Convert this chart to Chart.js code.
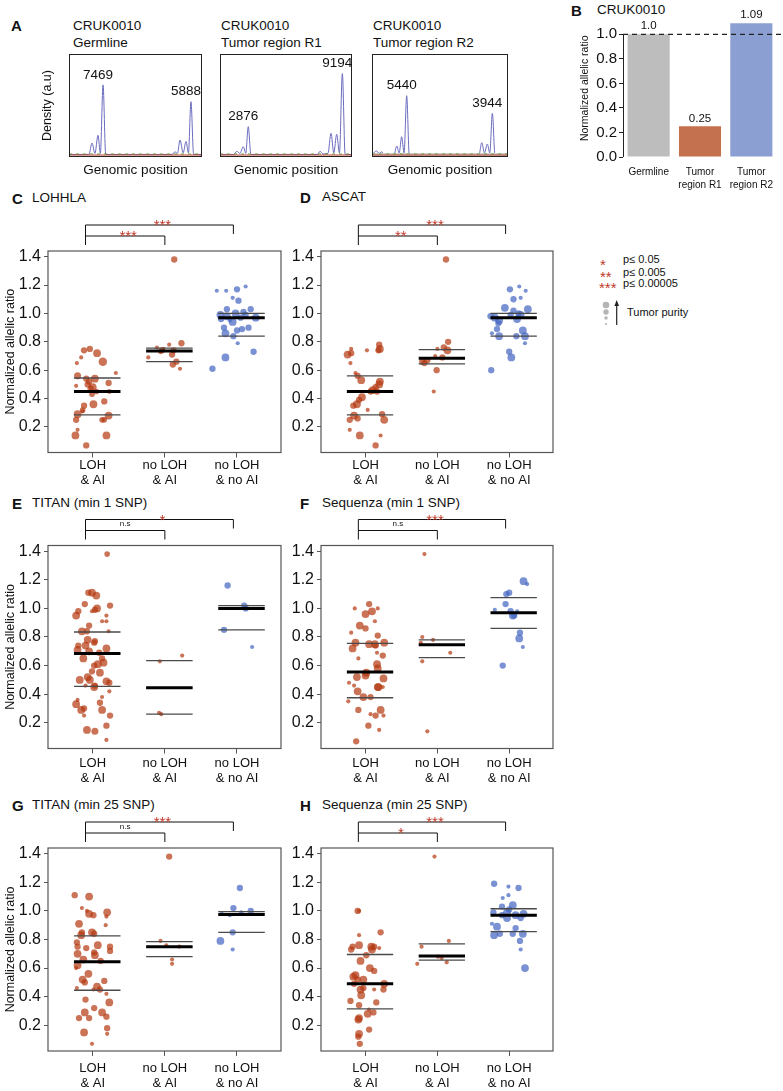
<!DOCTYPE html>
<html>
<head>
<meta charset="utf-8">
<script src="https://cdn.jsdelivr.net/npm/chart.js@4.4.1/dist/chart.umd.min.js"></script>
<style>
body { margin: 0; background: #fff; }
#fig { position: relative; width: 783px; height: 1091px; overflow: hidden;
       font-family: "Liberation Sans", Arial, Helvetica, sans-serif; color: #111; }
canvas { position: absolute; }
.t { position: absolute; white-space: nowrap; transform: translateY(-50%); line-height: 1; }
.L { font-weight: bold; font-size: 15px; }
.h { font-size: 13.5px; }
.lg { font-size: 11px; }
.st { font-size: 15px; color: #c0392b; }
</style>
</head>
<body>
<div id="fig">
  <div class="t L" style="left:11px;top:25px">A</div>
  <div class="t h" style="left:73px;top:26px">CRUK0010</div>
  <div class="t h" style="left:73px;top:43px">Germline</div>
  <div class="t h" style="left:221px;top:26px">CRUK0010</div>
  <div class="t h" style="left:221px;top:43px">Tumor region R1</div>
  <div class="t h" style="left:373px;top:26px">CRUK0010</div>
  <div class="t h" style="left:373px;top:43px">Tumor region R2</div>
  <div class="t L" style="left:571px;top:10px">B</div>
  <div class="t h" style="left:597px;top:10px">CRUK0010</div>

  <div class="t L" style="left:12px;top:198px">C</div><div class="t h" style="left:32px;top:198px">LOHHLA</div>
  <div class="t L" style="left:300px;top:197px">D</div><div class="t h" style="left:322px;top:197px">ASCAT</div>
  <div class="t L" style="left:12px;top:503px">E</div><div class="t h" style="left:32px;top:503px">TITAN (min 1 SNP)</div>
  <div class="t L" style="left:300px;top:503px">F</div><div class="t h" style="left:322px;top:503px">Sequenza (min 1 SNP)</div>
  <div class="t L" style="left:12px;top:805px">G</div><div class="t h" style="left:32px;top:805px">TITAN (min 25 SNP)</div>
  <div class="t L" style="left:300px;top:805px">H</div><div class="t h" style="left:322px;top:805px">Sequenza (min 25 SNP)</div>

  <div class="t st" style="left:600px;top:264px">*</div><div class="t lg" style="left:623px;top:259px">p≤ 0.05</div>
  <div class="t st" style="left:600px;top:276px">**</div><div class="t lg" style="left:623px;top:272px">p≤ 0.005</div>
  <div class="t st" style="left:599px;top:287px">***</div><div class="t lg" style="left:623px;top:283px">p≤ 0.00005</div>
  <svg style="position:absolute;left:598px;top:298px" width="30" height="30">
    <circle cx="8" cy="7" r="3.3" fill="#b5b5b5"/>
    <circle cx="8" cy="14" r="2.7" fill="#b5b5b5"/>
    <circle cx="8" cy="20" r="1.7" fill="#b5b5b5"/>
    <circle cx="8" cy="26" r="1.1" fill="#b5b5b5"/>
    <line x1="18.7" y1="27" x2="18.7" y2="6" stroke="#222" stroke-width="1.2"/>
    <polygon points="18.7,2 16.4,8 21,8" fill="#222"/>
  </svg>
  <div class="t lg" style="left:627px;top:312px">Tumor purity</div>

  <canvas id="a1" width="180" height="135" style="left:30px;top:50px"></canvas>
  <canvas id="a2" width="140" height="135" style="left:220px;top:50px"></canvas>
  <canvas id="a3" width="145" height="135" style="left:372px;top:50px"></canvas>
  <canvas id="b" width="211" height="195" style="left:572px;top:0px"></canvas>

  <canvas id="c" width="290" height="300" style="left:0px;top:190px"></canvas>
  <canvas id="d" width="275" height="300" style="left:290px;top:190px"></canvas>
  <canvas id="e" width="290" height="300" style="left:0px;top:490px"></canvas>
  <canvas id="f" width="275" height="300" style="left:290px;top:490px"></canvas>
  <canvas id="g" width="290" height="301" style="left:0px;top:790px"></canvas>
  <canvas id="h" width="275" height="301" style="left:290px;top:790px"></canvas>
</div>

<script>
const FONT = '"Liberation Sans", Arial, Helvetica, sans-serif';
Chart.defaults.font.family = FONT;
Chart.defaults.color = '#111';
Chart.defaults.animation = false;
Chart.defaults.plugins.legend.display = false;
Chart.defaults.plugins.tooltip.enabled = false;

/* =========================
   PANEL A - density traces (position 0-100, density a.u.)
========================= */
const germlineX = [0, 15, 17.3, 19.5, 21.8, 23.6, 25.6, 27.6, 50, 77.5, 79.7, 81.5, 83.5, 85.8, 88, 89.8, 91.7, 93.7, 100];
const germlineY = [2.5, 2.5, 13.6, 3.5, 21, 3.5, 70, 2.5, 2.5, 2.5, 5, 3.5, 16.5, 4, 15, 4, 53.7, 2.5, 2.5];
const germlineLabels = ['7469', '5888'];

const regionR1X = [0, 10.5, 12.7, 15, 17.7, 19.5, 21.4, 23.4, 50, 73.8, 75.8, 78, 81.8, 84.1, 86.2, 88.4, 90.5, 92.7, 94.8, 100];
const regionR1Y = [2.5, 2.5, 5.5, 3.5, 10, 3.5, 29.4, 2.5, 2.5, 2.5, 5.5, 3, 3.5, 23, 4, 22, 4, 81, 2.5, 2.5];
const regionR1Labels = ['2876', '9194'];

const regionR2X = [0, 3.4, 5.2, 7.1, 9, 16.2, 18.2, 20, 21.8, 23.6, 25.5, 27.4, 50, 78.7, 80.7, 82.7, 84.8, 86.6, 88.5, 90.4, 100];
const regionR2Y = [2.5, 5.8, 3.5, 5, 2.5, 2.5, 10.7, 4, 19.7, 4, 59.5, 2.5, 2.5, 2.5, 13.9, 4, 12.6, 4, 42.4, 2.5, 2.5];
const regionR2Labels = ['5440', '3944'];

/* =========================
   PANEL B - bar chart
========================= */
const sampleNames = ['Germline', ['Tumor', 'region R1'], ['Tumor', 'region R2']];
const allelicRatio = [1.0, 0.25, 1.09];
const barColors = ['#bdbdbd', '#c4714f', '#8c9fd2'];

/* =========================
   PANELS C-H - [x (group + jitter), normalized allelic ratio, tumor purity]
========================= */
const groupLabels = [['LOH', '& AI'], ['no LOH', '& AI'], ['no LOH', '& no AI']];
const ratioTicks = [0.2, 0.4, 0.6, 0.8, 1.0, 1.2, 1.4];

// C  LOHHLA
const lohhlaLoh = [[0.91,0.07,.6],[0.76,0.14,.8],[1.19,0.14,.8],[0.79,0.18,.3],[0.77,0.25,.6],[0.79,0.29,.8],[0.86,0.32,.5],[0.88,0.35,.6],[1.01,0.36,.8],[1.13,0.25,.5],[1.16,0.25,.5],[1.22,0.28,.8],[1.16,0.38,.6],[1.05,0.45,.5],[1.0,0.48,.8],[0.93,0.5,.6],[1.03,0.54,.8],[0.91,0.54,.6],[0.79,0.56,.7],[0.77,0.49,.3],[1.22,0.51,.6],[1.23,0.45,.4],[1.32,0.58,.3],[1.14,0.66,.9],[0.78,0.65,.3],[0.84,0.69,.3],[0.88,0.74,.6],[0.96,0.75,.6],[1.06,0.72,.8],[0.95,0.52,.6],[0.99,0.43,.5],[0.86,0.31,.3],[0.97,0.47,.6]];
const lohhlaNoLohAi = [[2.13,1.38,.6],[2.23,0.79,.6],[1.96,0.74,.6],[2.06,0.78,.3],[1.77,0.69,.3],[2.12,0.74,.6],[2.11,0.64,.6],[2.16,0.66,.6],[2.21,0.61,.3],[2.10,0.71,.6],[1.89,0.76,.3],[1.98,0.75,.3],[1.94,0.73,.4]];
const lohhlaNoLohNoAi = [[2.66,0.61,.6],[2.84,0.69,.8],[3.23,0.73,.6],[3.01,0.79,.3],[2.84,0.86,.8],[2.95,0.84,.6],[3.0,0.88,.6],[3.07,0.89,.6],[3.16,0.9,.6],[2.82,0.9,.6],[2.9,0.95,.3],[2.78,0.96,.6],[2.77,0.99,.8],[2.86,0.98,.8],[2.94,0.94,.8],[2.98,1.0,.8],[3.05,0.97,.6],[3.12,0.99,.6],[3.19,1.03,.6],[3.09,1.01,.6],[2.86,1.03,.6],[3.02,1.09,.6],[2.94,1.11,.3],[2.85,1.16,.3],[3.0,1.17,.6],[3.12,1.19,.3],[2.72,1.16,.3],[3.26,0.97,.8]];
const lohhlaStats = [[0.285,0.45,0.545],[0.66,0.735,0.755],[0.84,0.97,1.0]];

// D  ASCAT
const ascatLoh = [[1.14,0.07,.6],[0.92,0.14,.8],[1.21,0.14,.3],[0.78,0.18,.3],[0.78,0.25,.6],[0.89,0.26,.6],[1.03,0.32,.3],[0.84,0.28,.8],[1.26,0.25,.8],[1.23,0.29,.6],[0.88,0.36,.8],[0.91,0.39,.6],[0.95,0.41,.8],[0.83,0.35,.6],[1.1,0.46,.8],[1.14,0.48,.6],[1.19,0.5,.8],[1.2,0.52,.8],[1.16,0.45,.6],[0.94,0.53,.8],[0.89,0.56,.6],[0.86,0.58,.3],[0.79,0.65,.3],[0.75,0.71,.8],[0.8,0.72,.6],[0.8,0.75,.3],[1.02,0.74,.3],[1.19,0.78,.6],[1.2,0.75,.8],[1.18,0.74,.6],[1.07,0.45,.6]];
const ascatNoLohAi = [[2.12,1.38,.6],[1.95,0.45,.3],[1.99,0.6,.6],[1.82,0.65,.6],[1.86,0.67,.6],[2.07,0.69,.6],[1.97,0.7,.3],[2.0,0.75,.3],[2.09,0.76,.6],[2.14,0.74,.8],[2.15,0.8,.6],[1.79,0.66,.6]];
const ascatNoLohNoAi = [[2.75,0.6,.6],[3.03,0.69,.8],[3.0,0.73,.6],[3.22,0.79,.3],[2.76,0.86,.3],[2.86,0.84,.8],[3.1,0.84,.6],[3.22,0.84,.8],[3.19,0.88,.8],[2.83,0.89,.6],[2.85,0.93,.6],[2.8,0.97,.8],[2.86,0.95,.8],[3.11,0.96,.8],[3.16,0.99,.8],[3.06,1.02,.6],[2.94,1.04,.8],[3.26,1.03,.8],[3.02,0.99,.6],[3.13,1.0,.6],[3.06,1.1,.6],[3.16,1.11,.3],[3.01,1.17,.6],[3.14,1.19,.3],[3.23,1.16,.3],[2.74,0.98,.6]];
const ascatStats = [[0.285,0.45,0.56],[0.645,0.685,0.745],[0.84,0.97,1.0]];

// E  TITAN (min 1 SNP)
const titan1Loh = [[1.2,1.38,.5],[1.19,0.08,.3],[0.92,0.15,.8],[1.03,0.14,.7],[1.19,0.18,.6],[1.24,0.25,.6],[0.88,0.25,.3],[0.77,0.33,.8],[0.79,0.36,.3],[0.84,0.29,.8],[0.88,0.3,.6],[1.13,0.29,.8],[1.1,0.34,.6],[1.13,0.38,.3],[1.23,0.42,.3],[1.23,0.48,.6],[1.19,0.49,.8],[1.03,0.46,.6],[1.02,0.45,.8],[0.9,0.46,.3],[0.82,0.5,.8],[0.93,0.52,.8],[0.96,0.5,.8],[1.1,0.55,.8],[0.99,0.56,.6],[1.07,0.61,.8],[1.02,0.6,.6],[1.13,0.65,.6],[0.87,0.65,.8],[1.15,0.62,.8],[1.09,0.69,.6],[0.95,0.7,.8],[1.19,0.72,.8],[0.8,0.74,.6],[0.79,0.71,.8],[0.9,0.74,.8],[1.02,0.76,.6],[1.03,0.77,.6],[0.93,0.78,.8],[0.85,0.84,.8],[0.92,0.84,.6],[0.95,0.88,.6],[1.22,0.84,.3],[1.19,0.91,.3],[1.19,0.95,.3],[0.77,0.95,.8],[0.8,0.98,.6],[0.99,0.98,.3],[1.03,0.99,.6],[1.06,1.0,.8],[0.89,1.03,.6],[1.24,1.02,.6],[0.99,1.11,.8],[1.05,1.09,.8],[0.94,1.11,.6],[1.13,0.91,.3]];
const titan1NoLohAi = [[1.93,0.63,.3],[2.24,0.67,.3],[1.92,0.27,.3],[1.95,0.26,.3]];
const titan1NoLohNoAi = [[2.87,1.16,.6],[3.1,1.02,.6],[3.12,1.0,.6],[2.82,0.85,.6],[3.21,0.73,.3]];
const titan1Stats = [[0.455,0.685,0.835],[0.26,0.445,0.635],[0.85,1.0,1.02]];

// F  Sequenza (min 1 SNP)
const seq1Loh = [[0.87,0.07,.6],[1.04,0.18,.6],[1.19,0.15,.3],[0.9,0.29,.6],[1.07,0.38,.6],[0.89,0.42,.8],[0.97,0.38,.8],[0.76,0.35,.3],[0.84,0.46,.3],[0.77,0.48,.3],[0.88,0.52,.8],[1.01,0.55,.8],[1.0,0.53,.8],[1.07,0.26,.3],[1.14,0.25,.6],[1.21,0.29,.8],[1.25,0.25,.3],[1.17,0.45,.8],[1.18,0.45,.8],[1.25,0.51,.8],[1.24,0.45,.3],[1.17,0.58,.8],[1.16,0.61,.8],[1.24,0.67,.6],[1.16,0.69,.3],[0.9,0.65,.3],[0.82,0.72,.8],[0.86,0.76,.8],[1.05,0.75,.8],[1.13,0.75,.8],[1.26,0.76,.8],[1.17,0.81,.6],[0.8,0.83,.3],[0.92,0.88,.8],[1.0,0.86,.6],[1.13,0.91,.3],[1.0,0.96,.8],[1.09,0.98,.8],[0.85,1.0,.3],[1.05,1.03,.6],[1.17,1.0,.3],[1.14,0.74,.6]];
const seq1NoLohAi = [[1.82,1.38,.3],[1.86,0.14,.3],[1.79,0.8,.3],[1.94,0.78,.3],[1.77,0.76,.3],[1.79,0.63,.3],[2.18,0.69,.3]];
const seq1NoLohNoAi = [[2.91,0.6,.6],[3.19,0.73,.3],[3.14,0.79,.8],[3.15,0.83,.6],[3.05,0.95,.8],[3.02,0.98,.6],[3.11,0.98,.3],[3.07,0.95,.6],[2.8,0.99,.3],[2.95,1.03,.6],[2.96,1.1,.6],[3.0,1.11,.6],[3.2,1.19,.8],[3.25,1.17,.3]];
const seq1Stats = [[0.375,0.555,0.755],[0.655,0.745,0.78],[0.86,0.97,1.075]];

// G  TITAN (min 25 SNP)
const titan25Loh = [[0.99,0.07,.3],[0.88,0.15,.8],[1.2,0.14,.3],[1.2,0.18,.6],[0.81,0.25,.6],[0.95,0.25,.6],[1.19,0.26,.6],[0.89,0.29,.8],[1.13,0.29,.8],[1.02,0.32,.6],[0.9,0.38,.6],[1.23,0.36,.8],[1.19,0.42,.3],[0.78,0.46,.3],[1.01,0.45,.3],[1.06,0.47,.8],[1.1,0.45,.6],[1.16,0.51,.6],[0.86,0.52,.8],[0.89,0.5,.6],[0.94,0.56,.8],[0.77,0.6,.3],[0.79,0.62,.8],[1.11,0.65,.6],[0.87,0.66,.8],[0.79,0.7,.8],[1.03,0.69,.8],[1.02,0.71,.6],[1.24,0.72,.6],[1.24,0.75,.6],[1.07,0.76,.8],[0.91,0.74,.6],[0.78,0.78,.6],[0.79,0.75,.6],[0.85,0.85,.6],[0.84,0.83,.8],[0.99,0.85,.8],[1.02,0.84,.6],[0.81,0.91,.8],[1.18,0.9,.3],[0.95,0.98,.8],[1.01,0.97,.6],[1.19,0.96,.3],[1.2,0.99,.8],[0.85,1.02,.3],[0.92,1.0,.3],[0.75,1.11,.6],[0.95,1.1,.8]];
const titan25NoLohAi = [[2.06,1.38,.6],[1.94,0.79,.3],[2.02,0.76,.3],[2.2,0.75,.3],[2.1,0.66,.3],[2.1,0.63,.3]];
const titan25NoLohNoAi = [[3.04,1.16,.6],[2.77,0.79,.8],[2.94,0.73,.3],[2.94,0.85,.6],[2.79,0.98,.3],[2.9,0.97,.3],[2.95,1.02,.6],[3.06,0.99,.3],[3.19,1.0,.6]];
const titan25Stats = [[0.445,0.645,0.825],[0.68,0.75,0.785],[0.85,0.975,0.995]];

// H  Sequenza (min 25 SNP)
const seq25Loh = [[0.92,0.07,.6],[0.91,0.14,.8],[0.9,0.12,.6],[1.05,0.17,.6],[0.91,0.25,.8],[0.9,0.24,.8],[1.03,0.28,.8],[1.05,0.31,.3],[1.11,0.29,.6],[0.79,0.37,.6],[0.91,0.34,.6],[1.15,0.36,.6],[0.94,0.41,.8],[0.97,0.46,.6],[0.93,0.45,.8],[1.12,0.45,.3],[1.25,0.45,.6],[1.26,0.49,.8],[0.84,0.49,.6],[0.89,0.52,.6],[0.97,0.52,.8],[0.83,0.54,.8],[0.86,0.55,.8],[1.12,0.58,.6],[1.06,0.6,.8],[0.93,0.65,.8],[1.01,0.69,.6],[0.8,0.73,.6],[0.82,0.75,.6],[0.91,0.76,.8],[1.08,0.75,.8],[1.12,0.75,.6],[1.19,0.74,.3],[1.09,0.73,.8],[0.91,0.83,.3],[1.21,0.85,.6],[0.89,1.0,.6],[0.91,1.0,.3]];
const seq25NoLohAi = [[1.96,1.38,.3],[2.16,0.79,.3],[1.78,0.75,.3],[1.72,0.63,.3],[2.01,0.68,.3],[2.06,0.67,.3],[2.13,0.64,.3]];
const seq25NoLohNoAi = [[3.22,0.6,.8],[3.16,0.73,.3],[3.15,0.79,.6],[3.19,0.84,.8],[2.79,0.83,.8],[2.87,0.84,.6],[3.05,0.84,.6],[2.83,0.89,.8],[3.09,0.88,.6],[2.76,0.91,.3],[3.16,0.95,.6],[2.97,0.95,.8],[2.78,0.99,.6],[2.9,0.97,.6],[2.97,0.99,.8],[3.09,0.97,.8],[3.2,0.98,.8],[2.9,1.03,.6],[3.0,1.01,.6],[3.05,1.04,.8],[2.91,1.09,.3],[2.99,1.11,.3],[2.79,1.19,.6],[2.99,1.17,.3],[3.13,1.16,.6]];
const seq25Stats = [[0.315,0.49,0.695],[0.655,0.685,0.77],[0.855,0.97,1.015]];

/* =========================
   PANEL A CHARTS
========================= */
function tracePlugin(labels, band) {
  return {
    id: 'trace',
    afterDatasetsDraw(chart) {
      const { ctx, chartArea: a, scales: { x, y } } = chart;
      const pts = chart.data.datasets[0].data;
      ctx.save();
      if (band) {
        ctx.fillStyle = '#cfcfcf';
        ctx.fillRect(a.left, a.bottom - 4, a.width, 4);
      }
      // snp track at the bottom
      ctx.strokeStyle = '#c0392b';
      ctx.lineWidth = 1;
      ctx.beginPath(); ctx.moveTo(a.left, a.bottom - 2); ctx.lineTo(a.right, a.bottom - 2); ctx.stroke();
      ctx.strokeStyle = '#6a9a3a';
      ctx.setLineDash([3, 4]);
      ctx.beginPath(); ctx.moveTo(a.left, a.bottom - 3); ctx.lineTo(a.right, a.bottom - 3); ctx.stroke();
      ctx.setLineDash([]);
      ctx.strokeStyle = '#222';
      ctx.strokeRect(a.left + 0.5, a.top + 0.5, a.width - 1, a.height - 1);
      ctx.fillStyle = '#111';
      ctx.font = '13.5px ' + FONT;
      ctx.textAlign = 'center';
      ctx.textBaseline = 'middle';
      labels.forEach((txt, k) => {
        const half = pts.filter(p => (k === 0 ? p.x < 50 : p.x >= 50));
        const pk = half.reduce((m, p) => (p.y > m.y ? p : m));
        ctx.fillText(txt, x.getPixelForValue(pk.x) - 5, y.getPixelForValue(pk.y) - 10);
      });
      ctx.restore();
    }
  };
}

function densityChart(id, xs, ys, labels, withTitle, padRight, band) {
  new Chart(document.getElementById(id), {
    type: 'line',
    data: {
      datasets: [{
        data: xs.map((v, i) => ({ x: v, y: ys[i] })),
        borderColor: '#6b6bbf',
        borderWidth: 1,
        pointRadius: 0,
        cubicInterpolationMode: 'monotone',
        fill: false
      }]
    },
    options: {
      responsive: false,
      layout: { padding: { top: 4, right: padRight, left: 0, bottom: 0 } },
      scales: {
        x: {
          type: 'linear', min: 0, max: 100,
          ticks: { display: false },
          grid: { display: false, drawTicks: false },
          border: { display: false },
          title: { display: true, text: 'Genomic position', font: { size: 13.5 }, padding: { top: 0, bottom: 7 } },
          afterFit: s => { s.height = 28; }
        },
        y: {
          display: withTitle,
          min: 0, max: 100,
          ticks: { display: false },
          grid: { display: false, drawTicks: false },
          border: { display: false },
          title: { display: true, text: 'Density (a.u)', font: { size: 12.5 }, padding: { top: 10.5, bottom: 0 } },
          afterFit: s => { s.width = withTitle ? 39 : 0; }
        }
      }
    },
    plugins: [tracePlugin(labels, band)]
  });
}

densityChart('a1', germlineX, germlineY, germlineLabels, true, 8, false);
densityChart('a2', regionR1X, regionR1Y, regionR1Labels, false, 8, false);
densityChart('a3', regionR2X, regionR2Y, regionR2Labels, false, 9, true);

/* =========================
   PANEL B
========================= */
const barPlugin = {
  id: 'barDeco',
  afterDatasetsDraw(chart) {
    const { ctx, chartArea: a, scales: { y } } = chart;
    const y1 = y.getPixelForValue(1.0);
    ctx.save();
    ctx.strokeStyle = '#222';
    ctx.lineWidth = 1;
    ctx.beginPath();
    ctx.moveTo(a.left + 0.5, y.getPixelForValue(0));
    ctx.lineTo(a.left + 0.5, y1);
    ctx.stroke();
    ctx.setLineDash([5, 4]);
    ctx.lineWidth = 1.2;
    ctx.beginPath();
    ctx.moveTo(a.left, y1);
    ctx.lineTo(chart.width, y1);
    ctx.stroke();
    ctx.setLineDash([]);
    ctx.fillStyle = '#111';
    ctx.font = '11.5px ' + FONT;
    ctx.textAlign = 'center';
    ctx.textBaseline = 'middle';
    chart.getDatasetMeta(0).data.forEach((bar, i) => {
      const v = allelicRatio[i];
      ctx.fillText(Number.isInteger(v) ? v.toFixed(1) : String(v), bar.x, bar.y - 8);
    });
    ctx.restore();
  }
};

new Chart(document.getElementById('b'), {
  type: 'bar',
  data: {
    labels: sampleNames,
    datasets: [{ data: allelicRatio, backgroundColor: barColors, barPercentage: 0.82, categoryPercentage: 1 }]
  },
  options: {
    responsive: false,
    layout: { padding: { top: 19.6, right: 6, left: 0, bottom: 0 } },
    scales: {
      x: {
        grid: { display: false, drawTicks: false },
        border: { display: false },
        ticks: { font: { size: 10, lineHeight: 1.3 }, padding: 8.5, maxRotation: 0, autoSkip: false, color: '#111' },
        afterFit: s => { s.height = 38; }
      },
      y: {
        min: 0, max: 1.12,
        afterBuildTicks: s => { s.ticks = [0, 0.2, 0.4, 0.6, 0.8, 1.0].map(v => ({ value: v })); },
        ticks: { callback: v => v.toFixed(1), font: { size: 15 }, padding: 2, color: '#111' },
        grid: { drawOnChartArea: false, drawTicks: true, tickLength: 4, color: '#222' },
        border: { display: false },
        title: { display: true, text: 'Normalized allelic ratio', font: { size: 10.5 }, padding: { top: 6.7, bottom: 0 } },
        afterFit: s => { s.width = 51; }
      }
    }
  },
  plugins: [barPlugin]
});

/* =========================
   PANELS C-H
========================= */
const redDot = 'rgba(180, 56, 16, 0.7)';
const blueDot = 'rgba(66, 100, 192, 0.7)';

const rows = [
  { padTop: 61, xH: 37.5, xPad: 0 },
  { padTop: 55.5, xH: 41.5, xPad: 2.5 },
  { padTop: 58, xH: 40, xPad: 5 }
];
const cols = [
  { yW: 48, padRight: 9, title: true },
  { yW: 31, padRight: 12, title: false }
];

function bracketPlugin(sig) {
  function mark(ctx, txt, cx, yLine) {
    if (txt === 'n.s') {
      ctx.fillStyle = '#111';
      ctx.font = '8px ' + FONT;
      ctx.fillText(txt, cx, yLine - 4.5);
    } else {
      ctx.fillStyle = '#c0392b';
      ctx.font = '15px ' + FONT;
      ctx.fillText(txt, cx + 3, yLine + 5);
    }
  }
  return {
    id: 'brackets',
    afterDatasetsDraw(chart) {
      const { ctx, chartArea: a, scales: { x } } = chart;
      ctx.save();
      // plot box
      ctx.strokeStyle = '#555';
      ctx.lineWidth = 1.2;
      ctx.strokeRect(a.left, a.top, a.width, a.height);
      // comparison brackets
      const xl = x.getPixelForValue(0.9), xm = x.getPixelForValue(2.0), xr = x.getPixelForValue(2.95);
      const yo = a.top - 26, yi = a.top - 15, yb = a.top - 6, yrb = a.top - 17;
      ctx.strokeStyle = '#111';
      ctx.lineWidth = 1;
      ctx.beginPath();
      ctx.moveTo(xl, yb); ctx.lineTo(xl, yo); ctx.lineTo(xr, yo); ctx.lineTo(xr, yrb);
      ctx.moveTo(xl, yi); ctx.lineTo(xm, yi); ctx.lineTo(xm, yb);
      ctx.stroke();
      ctx.textAlign = 'center';
      ctx.textBaseline = 'alphabetic';
      mark(ctx, sig[0], (xl + xm) / 2, yi);
      mark(ctx, sig[1], (xl + xr) / 2, yo);
      ctx.restore();
    }
  };
}

function ratioChart(id, groups, stats, sig, row, col) {
  const R = rows[row], C = cols[col];
  const datasets = [];
  groups.forEach((g, i) => {
    datasets.push({
      data: g.map(v => ({ x: v[0], y: v[1], p: v[2] })),
      backgroundColor: i === 2 ? blueDot : redDot,
      borderWidth: 0,
      pointRadius: c => (c.raw ? 1 + 3.6 * c.raw.p : 3),
      order: 2
    });
  });
  stats.forEach((s, i) => {
    const c = i + 1;
    s.forEach((v, j) => {
      datasets.push({
        data: [{ x: c - 0.26, y: v }, { x: c + 0.385, y: v }],
        showLine: true,
        pointRadius: 0,
        borderColor: j === 1 ? '#000' : '#4a4a4a',
        borderWidth: j === 1 ? 3 : 1.3,
        order: 1
      });
    });
  });

  new Chart(document.getElementById(id), {
    type: 'scatter',
    data: { datasets },
    options: {
      responsive: false,
      layout: { padding: { top: R.padTop, right: C.padRight, left: 0, bottom: 0 } },
      scales: {
        x: {
          type: 'linear', min: 0.38, max: 3.61,
          afterBuildTicks: s => { s.ticks = [1, 2, 3].map(v => ({ value: v })); },
          ticks: { callback: (v, i) => groupLabels[i], font: { size: 13, lineHeight: 1.15 }, padding: R.xPad,
                   maxRotation: 0, minRotation: 0, autoSkip: false, color: '#111' },
          grid: { drawOnChartArea: false, drawTicks: true, tickLength: 5, color: '#555' },
          border: { display: false },
          afterFit: s => { s.height = R.xH; }
        },
        y: {
          min: 0.02, max: 1.44,
          afterBuildTicks: s => { s.ticks = ratioTicks.map(v => ({ value: v })); },
          ticks: { callback: v => v.toFixed(1), font: { size: 16 }, padding: 3, color: '#111' },
          grid: { drawOnChartArea: false, drawTicks: true, tickLength: 4, color: '#555' },
          border: { display: false },
          title: { display: C.title, text: 'Normalized allelic ratio', font: { size: 12.5 }, padding: { top: 3, bottom: 0 } },
          afterFit: s => { s.width = C.yW; }
        }
      }
    },
    plugins: [bracketPlugin(sig)]
  });
}

ratioChart('c', [lohhlaLoh, lohhlaNoLohAi, lohhlaNoLohNoAi], lohhlaStats, ['***', '***'], 0, 0);
ratioChart('d', [ascatLoh, ascatNoLohAi, ascatNoLohNoAi], ascatStats, ['**', '***'], 0, 1);
ratioChart('e', [titan1Loh, titan1NoLohAi, titan1NoLohNoAi], titan1Stats, ['n.s', '*'], 1, 0);
ratioChart('f', [seq1Loh, seq1NoLohAi, seq1NoLohNoAi], seq1Stats, ['n.s', '***'], 1, 1);
ratioChart('g', [titan25Loh, titan25NoLohAi, titan25NoLohNoAi], titan25Stats, ['n.s', '***'], 2, 0);
ratioChart('h', [seq25Loh, seq25NoLohAi, seq25NoLohNoAi], seq25Stats, ['*', '***'], 2, 1);
</script>
</body>
</html>
